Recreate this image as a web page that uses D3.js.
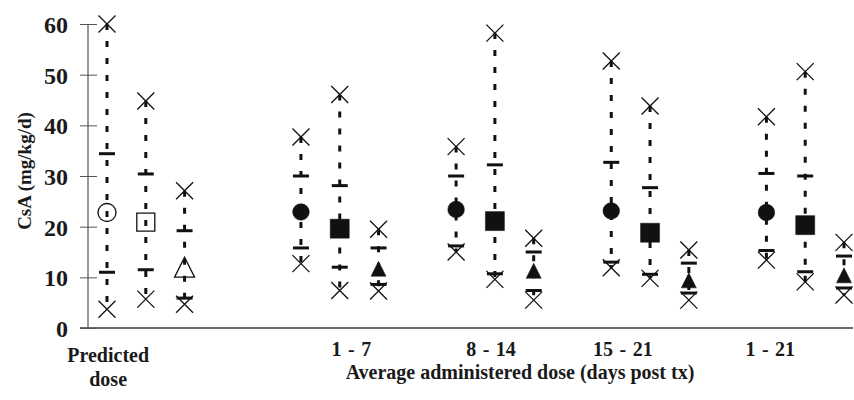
<!DOCTYPE html>
<html>
<head>
<meta charset="utf-8">
<script src="https://cdn.jsdelivr.net/npm/d3@7"></script>
<style>
  html, body { margin: 0; padding: 0; background: #fff; }
  svg { display: block; font-family: "Liberation Serif", "Times New Roman", serif; font-weight: bold; }
  svg text { opacity: 0.999; }
</style>
</head>
<body>
<svg id="chart" width="854" height="400"></svg>
<script>
// Dose periods on the x axis
const groups = ["Predicted dose", "1 - 7", "8 - 14", "15 - 21", "1 - 21"];
// First slot used by each period (three series per period, one slot apart)
const groupSlots = [0, 5, 9, 13, 17];
// Slot positions of the period labels
const labelSlots = [0.03, 6.3, 9.9, 13.3, 17.1];
// Series drawn within each period
const seriesShapes = ["circle", "square", "triangle"];

// Per period: [circle, square, triangle]
const maxima = [[60, 44.8, 27.1], [37.7, 46.1, 19.5], [35.8, 58.2, 17.7], [52.7, 43.8, 15.4], [41.7, 50.6, 16.9]];
const upperQ = [[34.4, 30.4, 19.2], [30.0, 28.1, 15.8], [30.0, 32.2, 15.0], [32.7, 27.7, 12.8], [30.5, 30.0, 14.2]];
const means  = [[22.8, 20.9, 12.0], [22.9, 19.6, 11.7], [23.4, 21.1, 11.3], [23.1, 18.8, 9.4], [22.8, 20.3, 10.4]];
const lowerQ = [[11.0, 11.5, 5.9], [15.8, 12.0, 8.6], [16.2, 10.7, 7.4], [13.0, 10.6, 6.9], [15.3, 11.1, 7.9]];
const minima = [[3.7, 5.7, 4.7], [12.7, 7.4, 7.3], [15.0, 9.6, 5.5], [11.9, 9.8, 5.5], [13.4, 9.1, 6.5]];

const yTicks = [0, 10, 20, 30, 40, 50, 60];

const svg = d3.select("#chart");

const x = d3.scaleLinear().domain([0, 19]).range([107, 844]);
const y = d3.scaleLinear().domain([0, 60]).range([328, 24]);

// Flatten into one record per period × series
const records = [];
groups.forEach((g, gi) => {
  seriesShapes.forEach((shape, si) => {
    records.push({
      group: g, gi, shape,
      slot: groupSlots[gi] + si,
      open: gi === 0,
      max: maxima[gi][si], q3: upperQ[gi][si], mean: means[gi][si],
      q1: lowerQ[gi][si], min: minima[gi][si]
    });
  });
});

// Axes
const axisColor = "#555";
svg.append("line")
  .attr("x1", 80).attr("x2", 853)
  .attr("y1", y(0)).attr("y2", y(0))
  .attr("stroke", "#3a3a3a").attr("stroke-width", 1.5);

const yAxis = svg.append("g")
  .attr("transform", "translate(88,0)")
  .call(d3.axisLeft(y).tickValues(yTicks).tickSize(0).tickPadding(20).tickFormat(d3.format("d")));
yAxis.select(".domain").remove();
yAxis.append("line")
  .attr("x1", 0).attr("x2", 0).attr("y1", y(60)).attr("y2", y(0))
  .attr("stroke", axisColor).attr("stroke-width", 1.2);
yAxis.selectAll(".tick line")
  .attr("x1", -8).attr("x2", 9)
  .attr("stroke", axisColor).attr("stroke-width", 1);
yAxis.selectAll(".tick text")
  .attr("fill", "#1a1a1a")
  .attr("dy", "0.36em")
  .style("font-family", "'Liberation Serif', serif")
  .style("font-weight", "bold")
  .style("font-size", "24px");

// Y axis title
svg.append("text")
  .attr("transform", `translate(31,${171}) rotate(-90)`)
  .attr("text-anchor", "middle")
  .attr("fill", "#1a1a1a")
  .style("font-size", "19px")
  .text("CsA (mg/kg/d)");

// Period labels
const labels = svg.append("g").attr("fill", "#1a1a1a").style("font-size", "20px");
groups.forEach((g, gi) => {
  const t = labels.append("text")
    .attr("x", x(labelSlots[gi]))
    .attr("text-anchor", "middle");
  if (gi === 0) {
    t.append("tspan").attr("x", x(labelSlots[gi])).attr("y", 362).text("Predicted");
    t.append("tspan").attr("x", x(labelSlots[gi])).attr("y", 386).text("dose");
  } else {
    t.attr("y", 356).style("word-spacing", "1.5px").text(g);
  }
});

// X axis title
svg.append("text")
  .attr("x", 520).attr("y", 379)
  .attr("text-anchor", "middle")
  .attr("fill", "#1a1a1a")
  .style("font-size", "20px")
  .text("Average administered dose (days post tx)");

// Range lines
const marks = svg.append("g");
marks.selectAll("line.range")
  .data(records)
  .join("line")
  .attr("class", "range")
  .attr("x1", d => x(d.slot)).attr("x2", d => x(d.slot))
  .attr("y1", d => y(d.max)).attr("y2", d => y(d.min))
  .attr("stroke", "#111").attr("stroke-width", 3)
  .attr("stroke-dasharray", "6,11");

// Quartile bars
["q3", "q1"].forEach(k => {
  marks.selectAll(`line.${k}`)
    .data(records)
    .join("line")
    .attr("class", k)
    .attr("x1", d => x(d.slot) - 8).attr("x2", d => x(d.slot) + 8)
    .attr("y1", d => y(d[k])).attr("y2", d => y(d[k]))
    .attr("stroke", "#111").attr("stroke-width", 3);
});

// Extremes as crosses
function cross(sel, key) {
  const h = 8.5;
  sel.selectAll(`path.${key}`)
    .data(records)
    .join("path")
    .attr("class", key)
    .attr("transform", d => `translate(${x(d.slot)},${y(d[key])})`)
    .attr("d", `M${-h},${-h}L${h},${h}M${-h},${h}L${h},${-h}`)
    .attr("fill", "none").attr("stroke", "#111").attr("stroke-width", 1.3);
}
cross(marks, "max");
cross(marks, "min");

// Mean markers
function shapePath(d) {
  if (d.shape === "circle") {
    const r = d.open ? 9 : 8.3;
    return `M${r},0A${r},${r} 0 1,1 ${-r},0A${r},${r} 0 1,1 ${r},0Z`;
  }
  if (d.shape === "square") {
    const s = d.open ? 9 : 9.5;
    return `M${-s},${-s}H${s}V${s}H${-s}Z`;
  }
  const w = d.open ? 10 : 7.5;
  return `M0,${-w}L${w},${w}L${-w},${w}Z`;
}
marks.selectAll("path.mean")
  .data(records)
  .join("path")
  .attr("class", "mean")
  .attr("transform", d => `translate(${x(d.slot)},${y(d.mean)})`)
  .attr("d", shapePath)
  .attr("fill", d => d.open ? "none" : "#111")
  .attr("stroke", "#111")
  .attr("stroke-width", d => d.open ? 1.3 : 0.5);
</script>
</body>
</html>
